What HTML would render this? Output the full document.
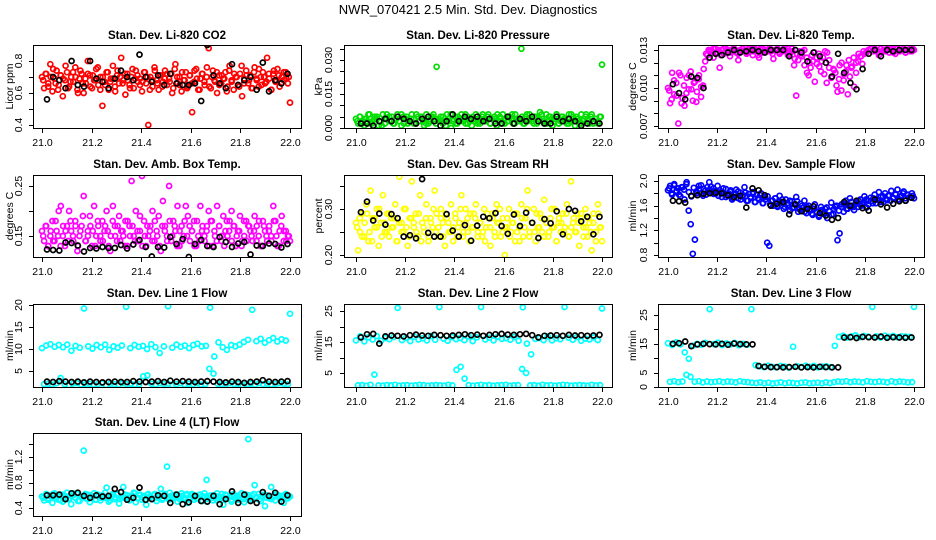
<!DOCTYPE html>
<html><head><meta charset="utf-8"><style>
html,body{margin:0;padding:0;background:#fff;}
svg{display:block;font-family:"Liberation Sans",sans-serif;}
</style></head><body>
<svg id="chart" width="936" height="540" viewBox="0 0 936 540">
<text x="468" y="14" text-anchor="middle" font-size="13">NWR_070421  2.5 Min. Std. Dev. Diagnostics</text>
</svg>
<script>
const xTicks = [21.0,21.2,21.4,21.6,21.8,22.0];
const xTickLabels = ["21.0","21.2","21.4","21.6","21.8","22.0"];

const co2Cloud = [0.70,0.63,0.72,0.66,0.78,0.61,0.69,0.74,0.65,0.71,0.58,0.68,0.73,0.64,0.70,0.67,0.76,0.62,0.69,0.72,
0.60,0.66,0.80,0.71,0.63,0.68,0.75,0.65,0.70,0.52,0.67,0.73,0.62,0.69,0.77,0.64,0.71,0.66,0.82,0.68,
0.59,0.72,0.65,0.70,0.63,0.74,0.67,0.69,0.61,0.73,0.66,0.40,0.70,0.64,0.76,0.68,0.62,0.71,0.67,0.74,
0.65,0.69,0.72,0.63,0.78,0.66,0.70,0.61,0.68,0.73,0.64,0.71,0.48,0.67,0.75,0.62,0.69,0.72,0.65,0.70,
0.88,0.63,0.74,0.67,0.60,0.71,0.66,0.69,0.73,0.64,0.77,0.68,0.62,0.70,0.65,0.72,0.58,0.69,0.74,0.66,
0.71,0.63,0.76,0.68,0.64,0.70,0.73,0.66,0.82,0.69,0.62,0.72,0.67,0.75,0.64,0.70,0.68,0.73,0.66,0.54];
const co2Cloud2 = [0.68,0.72,0.64,0.70,0.75,0.66,0.62,0.71,0.69,0.77,0.63,0.67,0.73,0.70,0.60,0.74,0.66,0.69,0.72,0.64,0.71,0.68,0.76,0.62,0.70,0.65,0.73,0.67,0.69,0.61,0.74,0.70,0.66,0.72,0.68,0.63,0.75,0.69,0.71,0.65,0.67,0.73,0.70,0.62,0.68,0.74,0.66,0.71,0.64,0.69,0.72,0.67,0.60,0.75,0.70,0.65,0.73,0.68,0.63,0.71,0.66,0.74,0.69,0.62,0.72,0.67,0.76,0.64,0.70,0.68,0.73,0.65,0.71,0.69,0.61,0.74,0.67,0.72,0.70,0.64,0.77,0.66,0.71,0.68,0.63,0.73,0.69,0.75,0.65,0.70,0.67,0.72,0.62,0.74,0.68,0.71,0.66,0.73,0.69,0.70];
const co2Black = [0.56,0.70,0.68,0.63,0.80,0.65,0.64,0.80,0.69,0.67,0.63,0.69,0.74,0.70,0.68,0.84,0.70,0.67,0.71,0.65,0.72,0.66,0.65,0.65,0.66,0.55,0.90,0.71,0.66,0.63,0.78,0.65,0.68,0.70,0.62,0.79,0.61,0.68,0.66,0.72];

const presCloud = [0.004,0.002,0.005,0.003,0.001,0.004,0.006,0.002,0.003,0.005,
0.004,0.001,0.003,0.006,0.002,0.004,0.005,0.003,0.002,0.004,
0.006,0.003,0.001,0.005,0.004,0.002,0.003,0.006,0.004,0.002,
0.005,0.003,0.004,0.001,0.006,0.002,0.003,0.005,0.004,0.027,
0.003,0.005,0.002,0.004,0.006,0.003,0.000,0.004,0.005,0.002,
0.003,0.006,0.004,0.002,0.005,0.003,0.001,0.004,0.006,0.003,
0.002,0.005,0.004,0.003,0.006,0.002,0.004,0.005,0.001,0.003,
0.004,0.006,0.002,0.005,0.003,0.004,0.002,0.006,0.003,0.004,
0.035,0.002,0.005,0.003,0.006,0.004,0.002,0.005,0.003,0.007,
0.004,0.002,0.006,0.003,0.005,0.001,0.004,0.006,0.002,0.003,
0.005,0.004,0.002,0.006,0.003,0.005,0.001,0.004,0.002,0.006,
0.003,0.005,0.004,0.002,0.006,0.003,0.004,0.002,0.005,0.028];
const presCloud2 = [0.003,0.005,0.002,0.004,0.003,0.006,0.002,0.004,0.005,0.003,0.001,0.004,0.006,0.003,0.005,0.002,0.004,0.003,0.006,0.002,0.005,0.003,0.004,0.002,0.006,0.003,0.005,0.004,0.002,0.003,0.005,0.006,0.002,0.004,0.003,0.005,0.001,0.004,0.006,0.003,0.002,0.005,0.004,0.003,0.006,0.002,0.004,0.005,0.003,0.002,0.004,0.006,0.003,0.005,0.002,0.004,0.003,0.006,0.005,0.002,0.004,0.003,0.005,0.006,0.002,0.004,0.003,0.005,0.002,0.006,0.004,0.003,0.005,0.002,0.004,0.006,0.003,0.002,0.005,0.004,0.003,0.006,0.002,0.005,0.004,0.003,0.002,0.006,0.004,0.005,0.003,0.002,0.004,0.006,0.003,0.005,0.002,0.004,0.003,0.005];
const presBlack = [0.002,0.002,0.001,0.003,0.004,0.003,0.005,0.004,0.003,0.002,0.004,0.005,0.003,0.001,0.003,0.006,0.003,0.005,0.004,0.005,0.003,0.004,0.002,0.002,0.005,0.002,0.004,0.003,0.005,0.003,0.002,0.002,0.005,0.003,0.004,0.003,0.001,0.002,0.003,0.002];

const tempCloud = [0.0100,0.0088,0.0112,0.0095,0.0104,0.0072,0.0110,0.0092,0.0086,0.0108,0.0099,0.0113,0.0090,0.0105,0.0097,0.0110,0.0093,0.0102,
0.0121,0.0126,0.0129,0.0130,0.0124,0.0131,0.0128,0.0116,0.0130,0.0127,0.0131,0.0129,0.0125,0.0130,0.0131,0.0128,0.0122,0.0130,0.0131,0.0129,0.0127,0.0131,0.0130,0.0126,0.0131,0.0129,0.0124,0.0130,0.0131,0.0128,0.0130,0.0131,0.0129,0.0123,0.0130,0.0131,0.0127,0.0129,0.0131,0.0130,0.0126,0.0129,0.0131,
0.0118,0.0094,0.0122,0.0126,0.0129,0.0130,0.0124,0.0110,0.0116,0.0121,0.0105,0.0119,0.0127,0.0113,0.0124,0.0129,0.0128,0.0122,0.0108,0.0115,0.0112,0.0097,0.0118,0.0120,0.0106,0.0113,0.0095,0.0109,0.0117,0.0101,0.0112,0.0121,0.0125,0.0119,0.0127,
0.0128,0.0130,0.0131,0.0129,0.0131,0.0130,0.0126,0.0131,0.0129,0.0130,0.0131,0.0128,0.0131,0.0130,0.0127,0.0131,0.0129,0.0130,0.0131,0.0128,0.0130,0.0131,0.0129,0.0130];
const tempCloud2 = [0.0098,0.0091,0.0106,0.0094,0.0112,0.0088,0.0102,0.0096,0.0110,0.0099,0.0104,0.0089,0.0107,0.0101,0.0115,
0.0127,0.0130,0.0129,0.0131,0.0128,0.0130,0.0126,0.0131,0.0129,0.0130,0.0128,0.0131,0.0130,0.0127,0.0129,0.0131,0.0130,0.0128,0.0131,0.0129,0.0130,0.0126,0.0131,0.0128,0.0130,0.0129,0.0131,0.0127,0.0130,0.0131,0.0128,0.0129,0.0130,0.0131,0.0127,0.0129,
0.0123,0.0127,0.0129,0.0125,0.0118,0.0112,0.0120,0.0126,0.0128,0.0124,0.0117,0.0121,0.0111,0.0104,0.0116,0.0109,0.0114,0.0102,0.0107,0.0098,0.0111,0.0118,0.0122,0.0116,0.0124,0.0120,0.0127,0.0125,0.0129,0.0128,
0.0130,0.0131,0.0129,0.0130,0.0128,0.0131,0.0130,0.0129,0.0131,0.0130,0.0128,0.0131,0.0129,0.0130,0.0131,0.0128,0.0130,0.0129,0.0131];
const tempBlack = [0.0103,0.0096,0.0091,0.0109,0.0108,0.0100,0.0124,0.0127,0.0126,0.0128,0.0130,0.0128,0.0129,0.0130,0.0129,0.0128,0.0130,0.0130,0.0130,0.0125,0.0130,0.0128,0.0121,0.0128,0.0125,0.0120,0.0109,0.0127,0.0112,0.0104,0.0099,0.0115,0.0127,0.0130,0.0125,0.0130,0.0129,0.0130,0.0130,0.0130];

const boxCloud = [0.16,0.14,0.17,0.13,0.15,0.18,0.14,0.16,0.20,0.21,0.15,0.13,0.17,0.20,0.16,0.14,0.18,0.12,0.15,0.17,
0.23,0.14,0.16,0.19,0.13,0.21,0.15,0.17,0.14,0.18,0.16,0.20,0.13,0.15,0.21,0.17,0.14,0.19,0.16,0.15,
0.18,0.13,0.17,0.26,0.15,0.20,0.14,0.16,0.27,0.18,0.13,0.15,0.17,0.20,0.14,0.16,0.19,0.12,0.22,0.17,
0.15,0.25,0.14,0.18,0.16,0.21,0.13,0.17,0.15,0.21,0.19,0.14,0.16,0.18,0.13,0.15,0.21,0.17,0.14,0.16,
0.20,0.18,0.13,0.15,0.21,0.17,0.14,0.19,0.16,0.15,0.18,0.20,0.17,0.13,0.16,0.19,0.14,0.15,0.18,0.17,
0.16,0.14,0.19,0.17,0.15,0.13,0.18,0.16,0.14,0.17,0.15,0.21,0.18,0.13,0.16,0.19,0.14,0.16,0.15,0.14];
const boxCloud2 = [0.15,0.17,0.13,0.16,0.14,0.18,0.15,0.13,0.17,0.16,0.14,0.18,0.15,0.17,0.13,0.16,0.19,0.14,0.15,0.17,0.16,0.13,0.18,0.15,0.14,0.17,0.16,0.12,0.18,0.15,0.17,0.14,0.16,0.13,0.18,0.15,0.17,0.14,0.16,0.19,0.13,0.15,0.17,0.16,0.14,0.18,0.15,0.13,0.17,0.16,0.14,0.18,0.15,0.17,0.13,0.16,0.14,0.18,0.15,0.17,0.16,0.13,0.18,0.14,0.16,0.15,0.17,0.13,0.18,0.16,0.14,0.17,0.15,0.13,0.18,0.16,0.14,0.17,0.15,0.16,0.13,0.18,0.14,0.17,0.15,0.16,0.14,0.18,0.13,0.17,0.15,0.16,0.14,0.18,0.15,0.13,0.17,0.16,0.14,0.15];
const boxBlack = [0.123,0.122,0.121,0.137,0.136,0.131,0.119,0.126,0.125,0.128,0.126,0.126,0.132,0.125,0.133,0.142,0.128,0.109,0.128,0.127,0.148,0.134,0.144,0.108,0.134,0.142,0.130,0.128,0.148,0.138,0.128,0.135,0.138,0.113,0.131,0.130,0.135,0.134,0.127,0.134];

const rhCloud = [0.27,0.21,0.25,0.29,0.24,0.31,0.23,0.34,0.28,0.26,0.30,0.22,0.27,0.33,0.25,0.29,0.24,0.28,0.26,0.31,
0.23,0.37,0.27,0.25,0.30,0.22,0.28,0.36,0.26,0.29,0.24,0.33,0.27,0.25,0.31,0.23,0.28,0.26,0.34,0.29,
0.24,0.30,0.27,0.22,0.28,0.25,0.31,0.26,0.29,0.24,0.27,0.33,0.25,0.30,0.28,0.23,0.26,0.29,0.31,0.25,
0.27,0.24,0.30,0.26,0.28,0.22,0.29,0.25,0.31,0.27,0.24,0.28,0.20,0.26,0.30,0.25,0.27,0.23,0.29,0.26,
0.31,0.24,0.28,0.34,0.25,0.27,0.30,0.23,0.26,0.29,0.25,0.32,0.27,0.24,0.28,0.26,0.30,0.23,0.27,0.25,
0.29,0.26,0.31,0.24,0.36,0.27,0.25,0.29,0.22,0.28,0.26,0.30,0.24,0.27,0.21,0.29,0.25,0.31,0.26,0.23];
const rhCloud2 = [0.26,0.28,0.24,0.27,0.29,0.25,0.23,0.28,0.26,0.30,0.24,0.27,0.25,0.29,0.26,0.28,0.23,0.27,0.25,0.30,0.26,0.24,0.28,0.27,0.25,0.29,0.23,0.26,0.28,0.24,0.27,0.30,0.25,0.26,0.28,0.24,0.29,0.27,0.25,0.23,0.28,0.26,0.30,0.24,0.27,0.25,0.29,0.26,0.28,0.24,0.27,0.25,0.23,0.29,0.26,0.28,0.24,0.27,0.30,0.25,0.26,0.28,0.24,0.27,0.29,0.25,0.23,0.28,0.26,0.30,0.24,0.27,0.25,0.29,0.26,0.28,0.24,0.27,0.25,0.30,0.26,0.23,0.28,0.27,0.25,0.29,0.24,0.26,0.28,0.25,0.27,0.29,0.24,0.26,0.28,0.25,0.27,0.23,0.29,0.26];
const rhBlack = [0.293,0.316,0.275,0.290,0.266,0.289,0.280,0.240,0.243,0.236,0.365,0.248,0.240,0.240,0.289,0.253,0.240,0.265,0.231,0.264,0.283,0.280,0.291,0.263,0.246,0.288,0.263,0.292,0.270,0.237,0.278,0.269,0.295,0.245,0.300,0.296,0.273,0.283,0.245,0.283];

const flowCloud = [1.85,1.92,1.78,1.95,1.82,1.88,1.75,1.90,1.70,1.98,1.52,1.30,0.82,1.05,1.80,1.87,1.93,1.76,1.84,1.90,
1.98,1.82,1.88,1.79,1.92,1.85,1.74,1.80,1.87,1.76,1.83,1.70,1.78,1.86,1.72,1.81,1.75,1.90,1.68,1.79,
1.73,1.82,1.66,1.77,1.70,1.80,1.64,1.74,1.00,0.95,1.68,1.60,1.72,1.58,1.76,1.65,1.55,1.70,1.61,1.52,
1.67,1.57,1.74,1.50,1.63,1.56,1.68,1.48,1.60,1.53,1.45,1.62,1.50,1.42,1.58,1.47,1.55,1.40,1.52,1.65,
1.46,1.58,1.04,1.15,1.62,1.50,1.68,1.55,1.72,1.60,1.53,1.66,1.58,1.70,1.62,1.75,1.57,1.68,1.73,1.64,
1.78,1.70,1.82,1.66,1.75,1.80,1.69,1.77,1.84,1.72,1.79,1.86,1.70,1.76,1.83,1.68,1.78,1.74,1.80,1.72];
const flowCloud2 = [1.88,1.80,1.93,1.84,1.78,1.90,1.86,1.95,1.82,1.75,1.89,1.83,1.92,1.80,1.87,1.78,1.85,1.91,1.79,1.84,1.76,1.82,1.88,1.74,1.80,1.85,1.72,1.79,1.83,1.70,1.77,1.81,1.68,1.74,1.79,1.66,1.72,1.77,1.64,1.70,1.75,1.62,1.68,1.72,1.60,1.66,1.70,1.58,1.64,1.68,1.56,1.62,1.67,1.54,1.60,1.50,1.58,1.52,1.47,1.55,1.50,1.44,1.53,1.48,1.57,1.51,1.45,1.55,1.60,1.52,1.58,1.63,1.55,1.60,1.66,1.58,1.63,1.68,1.60,1.65,1.70,1.62,1.67,1.72,1.64,1.69,1.74,1.66,1.71,1.76,1.68,1.73,1.78,1.70,1.75,1.80,1.72,1.77,1.74,1.76];
const flowBlack = [1.68,1.67,1.65,1.76,1.77,1.79,1.80,1.81,1.80,1.77,1.74,1.76,1.57,1.88,1.85,1.77,1.60,1.63,1.66,1.46,1.62,1.51,1.55,1.59,1.48,1.44,1.37,1.40,1.66,1.60,1.68,1.56,1.52,1.70,1.62,1.57,1.63,1.67,1.68,1.73];

const line1High = [10.2,10.8,11.1,10.5,10.9,10.4,11.0,9.6,10.7,10.3,19.2,10.6,10.1,10.9,10.4,11.0,9.8,10.6,10.3,10.8,
19.6,10.2,10.9,10.5,10.7,10.0,11.1,10.4,9.1,10.6,19.7,10.3,11.0,10.5,10.8,10.2,10.9,11.2,10.6,10.7,
19.4,8.3,11.5,10.4,9.8,10.9,10.6,11.0,11.6,12.1,18.9,11.8,12.3,11.4,12.0,12.5,11.7,12.2,11.9,18.0];
const line1Low = [2.0,2.1,1.9,2.2,3.4,2.0,1.8,2.1,2.2,1.9,2.0,2.1,1.9,2.0,2.2,1.8,2.1,2.0,1.9,2.2,2.0,2.1,1.9,2.0,3.8,4.0,2.1,1.9,2.2,2.0,2.1,1.8,2.0,2.2,1.9,2.1,2.0,2.2,1.9,2.0,5.5,4.4,2.1,2.0,1.9,2.2,2.0,2.1,1.8,2.0,2.1,1.9,2.2,2.0,2.1,1.9,2.0,2.2,2.1,2.0];
const line1Black = [2.6,2.5,2.7,2.6,2.5,2.6,2.4,2.6,2.5,2.4,2.5,2.6,2.5,2.5,2.7,2.6,2.5,2.6,2.7,2.5,2.8,2.6,2.7,2.6,2.5,2.6,2.7,2.6,2.5,2.4,2.6,2.5,2.3,2.5,2.6,2.9,2.6,2.5,2.6,2.7];

const line2High = [15.5,16.8,15.2,16.5,15.8,16.9,15.4,16.3,15.9,16.6,26.0,15.6,16.4,15.3,16.7,15.8,16.2,15.5,16.9,15.7,
26.3,16.1,15.4,16.6,15.9,16.3,15.6,16.8,15.3,16.5,26.3,15.8,16.4,15.5,16.7,16.0,16.2,15.7,16.6,15.4,
26.2,14.5,11.0,16.0,16.3,15.6,16.8,15.5,16.2,15.9,26.3,16.4,15.7,16.6,15.4,16.1,15.8,16.5,15.6,25.8];
const line2Low = [1.0,1.1,0.9,1.2,4.5,1.0,0.9,1.1,1.0,1.2,0.9,1.0,1.1,0.9,1.0,1.2,1.1,0.9,1.0,1.1,1.0,0.9,1.2,1.0,6.0,7.0,3.2,1.1,0.9,1.0,1.2,1.0,1.1,0.9,1.0,1.1,1.2,0.9,1.0,1.1,6.3,5.0,1.0,1.1,0.9,1.2,1.0,1.1,0.9,1.0,1.2,1.1,0.9,1.0,1.1,1.0,0.9,1.2,1.0,1.1];
const line2Black = [16.5,17.5,17.6,14.5,16.8,17.1,17.0,16.8,17.2,17.4,17.1,17.0,17.3,17.2,17.0,17.1,17.3,17.5,17.2,17.4,17.0,17.3,17.5,17.6,17.4,17.3,17.5,17.6,17.2,16.5,17.0,17.1,17.2,17.0,17.3,17.1,17.2,17.0,17.1,17.3];

const line3High = [15.2,14.6,15.5,14.8,12.0,9.8,14.3,15.0,14.7,15.3,27.0,14.9,15.4,14.6,15.1,14.8,15.3,14.5,15.0,14.7,
27.0,7.6,7.2,6.9,7.4,7.0,6.8,7.3,7.1,6.7,14.0,7.2,6.9,7.4,7.0,7.3,6.8,7.1,7.2,6.9,
14.3,17.4,17.8,17.2,17.6,17.9,17.3,17.7,17.5,27.8,17.6,17.2,17.8,17.4,17.7,17.3,17.6,17.5,17.4,27.8];
const line3Low = [1.8,2.0,1.7,1.9,4.2,3.5,1.8,2.0,1.6,1.9,1.7,1.8,2.0,1.7,1.9,1.8,1.6,2.0,1.8,1.7,1.5,1.4,1.6,1.3,1.5,1.2,1.4,1.6,1.3,1.5,1.4,1.2,1.5,1.6,1.3,1.4,1.5,1.3,1.6,1.4,1.7,1.9,1.8,2.0,1.7,1.9,1.8,1.6,2.0,1.8,1.7,1.9,1.8,1.6,2.0,1.7,1.9,1.8,1.6,1.7];
const line3Black = [15.0,15.2,15.8,14.2,14.8,15.0,14.9,14.8,15.0,14.7,15.1,14.9,14.8,14.8,7.3,7.0,6.9,6.9,6.8,6.9,7.0,6.8,6.9,6.8,7.0,6.9,6.8,6.8,17.2,17.3,17.0,17.4,17.3,17.2,17.5,17.1,17.3,17.2,17.1,17.2];

const line4Cloud = [0.58,0.52,0.62,0.55,0.60,0.48,0.63,0.57,0.53,0.61,0.50,0.59,0.64,0.54,0.46,0.60,0.56,0.62,0.51,0.58,
1.30,0.55,0.61,0.49,0.57,0.63,0.53,0.59,0.52,0.60,0.56,0.72,0.50,0.58,0.62,0.54,0.61,0.47,0.57,0.73,
0.55,0.60,0.52,0.58,0.64,0.49,0.56,0.61,0.53,0.59,0.45,0.62,0.57,0.54,0.60,0.51,0.58,0.70,0.55,0.62,
1.05,0.53,0.59,0.56,0.61,0.50,0.58,0.63,0.54,0.60,0.48,0.57,0.62,0.53,0.59,0.55,0.61,0.51,0.58,0.84,
0.56,0.60,0.52,0.59,0.63,0.54,0.57,0.45,0.61,0.55,0.58,0.50,0.62,0.56,0.53,0.60,0.57,0.49,0.61,1.48,
0.54,0.59,0.76,0.56,0.62,0.51,0.58,0.43,0.60,0.55,0.73,0.57,0.52,0.61,0.56,0.59,0.48,0.62,0.55,0.58];
const line4Cloud2 = [0.56,0.60,0.53,0.58,0.62,0.55,0.59,0.52,0.61,0.57,0.54,0.60,0.63,0.56,0.51,0.59,0.57,0.62,0.54,0.60,0.58,0.53,0.61,0.56,0.59,0.64,0.55,0.52,0.60,0.57,0.62,0.54,0.58,0.61,0.56,0.53,0.59,0.63,0.55,0.60,0.57,0.52,0.61,0.58,0.54,0.62,0.56,0.59,0.53,0.60,0.57,0.64,0.55,0.58,0.61,0.54,0.59,0.56,0.62,0.53,0.60,0.57,0.55,0.61,0.58,0.63,0.54,0.59,0.56,0.60,0.52,0.58,0.62,0.55,0.60,0.57,0.53,0.61,0.59,0.56,0.63,0.54,0.58,0.60,0.55,0.62,0.57,0.53,0.59,0.61,0.56,0.58,0.54,0.60,0.62,0.57,0.55,0.59,0.61,0.58];
const line4Black = [0.60,0.60,0.61,0.54,0.63,0.64,0.59,0.56,0.60,0.58,0.59,0.70,0.65,0.53,0.56,0.72,0.53,0.54,0.60,0.59,0.48,0.61,0.46,0.49,0.59,0.51,0.50,0.59,0.46,0.54,0.66,0.48,0.61,0.51,0.48,0.65,0.59,0.64,0.50,0.60];

const NS = "http://www.w3.org/2000/svg";
const svg = document.getElementById("chart");
function mk(tag, attrs, parent){const e=document.createElementNS(NS,tag);for(const k in attrs)e.setAttribute(k,attrs[k]);(parent||svg).appendChild(e);return e;}

const COLS=[{bx0:33,bx1:301,x21:42,x22:290,lab:18,ttl:9},{bx0:344,bx1:612,x21:356,x22:602,lab:328,ttl:318},{bx0:658,bx1:924,x21:668,x22:914,lab:643,ttl:632}];
const ROWS=[{by0:45,by1:128,title:39},{by0:175,by1:257,title:168},{by0:304,by1:387,title:297},{by0:433,by1:516,title:426}];

const panels=[
 {name:"co2",col:0,row:0,title:"Stan. Dev. Li-820 CO2",ylab:"Licor ppm",c1:[0.4,125],c2:[0.8,61],ticks:[0.4,0.5,0.6,0.7,0.8],labels:[[0.4,"0.4"],[0.6,"0.6"],[0.8,"0.8"]],color:"#ff0000",clouds:[co2Cloud,co2Cloud2],black:co2Black},
 {name:"pressure",col:1,row:0,title:"Stan. Dev. Li-820 Pressure",ylab:"kPa",c1:[0,128],c2:[0.035,48.7],ticks:[0,0.005,0.01,0.015,0.02,0.025,0.03,0.035],labels:[[0,"0.000"],[0.015,"0.015"],[0.030,"0.030"]],color:"#00dd00",clouds:[presCloud,presCloud2],black:presBlack},
 {name:"temp",col:2,row:0,title:"Stan. Dev. Li-820 Temp.",ylab:"degrees C",c1:[0.007,126],c2:[0.013,50],ticks:[0.007,0.008,0.009,0.010,0.011,0.012,0.013],labels:[[0.007,"0.007"],[0.010,"0.010"],[0.013,"0.013"]],color:"#ff00ff",clouds:[tempCloud,tempCloud2],black:tempBlack},
 {name:"box-temp",col:0,row:1,title:"Stan. Dev. Amb. Box Temp.",ylab:"degrees C",c1:[0.15,236],c2:[0.25,186],ticks:[0.15,0.20,0.25],labels:[[0.15,"0.15"],[0.25,"0.25"]],color:"#ff00ff",clouds:[boxCloud,boxCloud2],black:boxBlack},
 {name:"rh",col:1,row:1,title:"Stan. Dev. Gas Stream RH",ylab:"percent",c1:[0.20,255],c2:[0.30,209],ticks:[0.20,0.25,0.30,0.35],labels:[[0.20,"0.20"],[0.30,"0.30"]],color:"#ffff00",clouds:[rhCloud,rhCloud2],black:rhBlack},
 {name:"sample-flow",col:2,row:1,title:"Stan. Dev. Sample Flow",ylab:"ml/min",c1:[0.8,255],c2:[2.0,181],ticks:[0.8,1.0,1.2,1.4,1.6,1.8,2.0],labels:[[0.8,"0.8"],[1.2,"1.2"],[1.6,"1.6"],[2.0,"2.0"]],color:"#0000ff",clouds:[flowCloud,flowCloud2],black:flowBlack},
 {name:"line1",col:0,row:2,title:"Stan. Dev. Line 1 Flow",ylab:"ml/min",c1:[5,371],c2:[20,305],ticks:[5,10,15,20],labels:[[5,"5"],[10,"10"],[15,"15"],[20,"20"]],color:"#00ffff",clouds:[line1High,line1Low],black:line1Black},
 {name:"line2",col:1,row:2,title:"Stan. Dev. Line 2 Flow",ylab:"ml/min",c1:[5,373],c2:[25,311],ticks:[5,10,15,20,25],labels:[[5,"5"],[15,"15"],[25,"25"]],color:"#00ffff",clouds:[line2High,line2Low],black:line2Black},
 {name:"line3",col:2,row:2,title:"Stan. Dev. Line 3 Flow",ylab:"ml/min",c1:[0,387],c2:[25,315],ticks:[0,5,10,15,20,25],labels:[[0,"0"],[5,"5"],[15,"15"],[25,"25"]],color:"#00ffff",clouds:[line3High,line3Low],black:line3Black},
 {name:"line4",col:0,row:3,title:"Stan. Dev. Line 4 (LT) Flow",ylab:"ml/min",c1:[0.4,508],c2:[1.2,457],ticks:[0.4,0.6,0.8,1.0,1.2,1.4],labels:[[0.4,"0.4"],[0.8,"0.8"],[1.2,"1.2"]],color:"#00ffff",clouds:[line4Cloud,line4Cloud2],black:line4Black}
];

panels.forEach(p=>{
  const C=COLS[p.col],R=ROWS[p.row];
  const g=mk("g",{});
  
  
  const xs=v=>C.x21+(v-21)*(C.x22-C.x21);
  const ys=v=>p.c1[1]+(v-p.c1[0])*(p.c2[1]-p.c1[1])/(p.c2[0]-p.c1[0]);
  const t=mk("text",{x:(C.bx0+C.bx1)/2,y:R.title,"text-anchor":"middle","font-size":"11.5","font-weight":"bold"},g);
  t.textContent=p.title;
  
  
  const clip="clip-"+p.name;
  const cp=mk("clipPath",{id:clip},g);
  mk("rect",{x:C.bx0,y:R.by0,width:C.bx1-C.bx0,height:R.by1-R.by0},cp);
  const pts=mk("g",{"clip-path":"url(#"+clip+")",fill:"none","stroke-width":"1.7"},g);
  p.clouds.forEach((arr,k)=>{
    const n=arr.length;
    arr.forEach((v,i)=>{
      const tt=21+(i+k*0.5)/(n-1+k);
      const c=mk("circle",{cx:xs(tt).toFixed(1),cy:ys(v).toFixed(1),r:2.5,stroke:p.color},pts);
      
      
    });
  });
  const nb=p.black.length;
  p.black.forEach((v,i)=>{
    const c=mk("circle",{cx:xs(21.02+i*0.97/(nb-1)).toFixed(1),cy:ys(v).toFixed(1),r:2.5,stroke:"#000"},pts);
    
    
  });
  const box=mk("rect",{x:C.bx0+0.5,y:R.by0+0.5,width:C.bx1-C.bx0,height:R.by1-R.by0,fill:"none",stroke:"#000","stroke-width":"1"},g);
  
  
  xTicks.forEach((v,i)=>{
    const x=Math.round(xs(v))+0.5;
    mk("line",{x1:x,x2:x,y1:R.by1+0.5,y2:R.by1+5,stroke:"#000"},g);
    const l=mk("text",{x:x,y:R.by1+18,"text-anchor":"middle","font-size":"10.5"},g);
    l.textContent=xTickLabels[i];
    
    
  });
  p.ticks.forEach(v=>{
    const y=Math.round(ys(v))+0.5;
    mk("line",{x1:C.bx0+0.5,x2:C.bx0-4,y1:y,y2:y,stroke:"#000"},g);
  });
  p.labels.forEach(([v,s])=>{
    const y=ys(v);
    const l=mk("text",{x:0,y:0,"text-anchor":"middle","font-size":"10.5",transform:`translate(${C.lab+4},${y.toFixed(1)}) rotate(-90)`},g);
    l.textContent=s;
    
    
  });
  const yl=mk("text",{x:0,y:0,"text-anchor":"middle","font-size":"10.5",transform:`translate(${C.ttl+4},${((R.by0+R.by1)/2).toFixed(1)}) rotate(-90)`},g);
  yl.textContent=p.ylab;
  
  
});
</script>
</body></html>
